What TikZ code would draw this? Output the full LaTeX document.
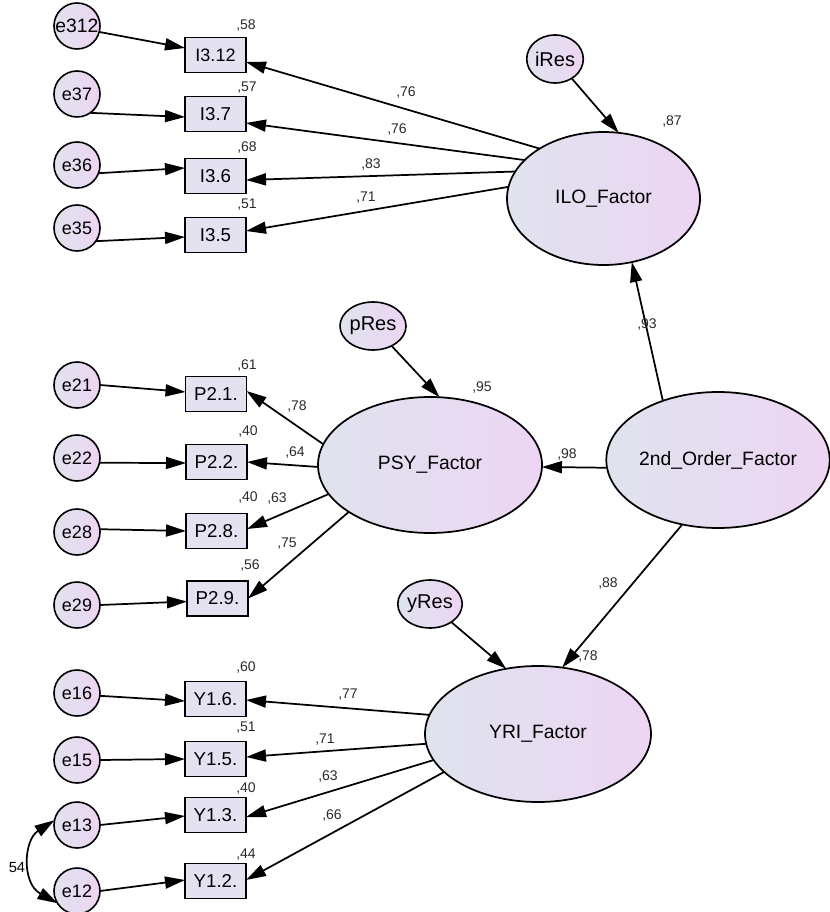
\documentclass[tikz,border=0pt]{standalone}
\usepackage{fontspec}
\setmainfont{Liberation Sans}
\usetikzlibrary{arrows.meta,shapes.geometric,calc}
\definecolor{shadeL}{HTML}{DFE3EE}
\definecolor{shadeR}{HTML}{EDD5F3}
\definecolor{boxfill}{HTML}{E4E1F1}
\definecolor{numcol}{HTML}{2A2A2A}
\begin{document}
\begin{tikzpicture}[x=0.75pt,y=-0.75pt,
  every node/.style={inner sep=0pt,outer sep=0pt},
  errc/.style={circle,draw=black,line width=1.2pt,left color=shadeL,right color=shadeR,minimum size=34.5pt,font=\fontsize{13.5}{15}\selectfont},
  resc/.style={ellipse,draw=black,line width=1.2pt,left color=shadeL,right color=shadeR,minimum width=39.75pt,minimum height=36pt,font=\fontsize{15}{16}\selectfont},
  obs/.style={rectangle,draw=black,line width=1.2pt,fill=boxfill,minimum width=45.75pt,minimum height=26pt,font=\fontsize{14}{15}\selectfont},
  lat/.style={ellipse,draw=black,line width=1.3pt,left color=shadeL,right color=shadeR,font=\fontsize{14.5}{16}\selectfont},
  num/.style={font=\fontsize{10.5}{12}\selectfont,text=numcol},
  arr/.style={line width=1.3pt,-{Triangle[length=15pt,width=9pt]}},
  darr/.style={line width=1.3pt,{Triangle[length=15pt,width=9pt]}-{Triangle[length=15pt,width=9pt]}}
]
\useasboundingbox (0,0) rectangle (829,912);

% latent factors
\node[lat,minimum width=144.75pt,minimum height=99.75pt] (ILO) at (603.5,198.5) {ILO\_Factor};
\node[lat,minimum width=168pt,minimum height=102pt] (PSY) at (430,465) {PSY\_Factor};
\node[lat,minimum width=165pt,minimum height=102pt] (SOF) at (718,460) {2nd\_Order\_Factor};
\node[lat,minimum width=169.5pt,minimum height=102pt] (YRI) at (538,734) {YRI\_Factor};

% residuals
\node[resc] (iRes) at (555,59) {iRes};
\node[resc] (pRes) at (373,326) {pRes};
\node[resc] (yRes) at (430,604) {yRes};

% ILO group
\node[errc,font=\fontsize{14.5}{15}\selectfont] (e312) at (77,26) {e312};
\node[errc] (e37) at (77,94) {e37};
\node[errc] (e36) at (77,165) {e36};
\node[errc] (e35) at (77,228) {e35};
\node[obs,font=\fontsize{13.5}{14}\selectfont] (I312) at (215.5,55) {I3.12};
\node[obs] (I37) at (215.5,114) {I3.7};
\node[obs] (I36) at (215.5,176) {I3.6};
\node[obs] (I35) at (215.5,235) {I3.5};

% PSY group
\node[errc] (e21) at (77,385) {e21};
\node[errc] (e22) at (77,458) {e22};
\node[errc] (e28) at (77,532) {e28};
\node[errc] (e29) at (77,605) {e29};
\node[obs] (P21) at (216,394) {P2.1.};
\node[obs] (P22) at (216.5,462) {P2.2.};
\node[obs] (P28) at (216.5,531) {P2.8.};
\node[obs] (P29) at (217.5,598.5) {P2.9.};

% YRI group
\node[errc] (e16) at (77,693) {e16};
\node[errc] (e15) at (77,760) {e15};
\node[errc] (e13) at (77,825) {e13};
\node[errc] (e12) at (77,891) {e12};
\node[obs] (Y16) at (215.5,699) {Y1.6.};
\node[obs] (Y15) at (215.5,759) {Y1.5.};
\node[obs] (Y13) at (215.5,815) {Y1.3.};
\node[obs] (Y12) at (215.5,881) {Y1.2.};

% error arrows
\draw[arr] (e312.-15) -- ($(I312.west)+(0,-7)$);
\draw[arr] (e37.-55) -- ($(I37.west)+(0,3)$);
\draw[arr] (e36.-21) -- ($(I36.west)+(0,-8)$);
\draw[arr] (e35.-35) -- ($(I35.west)+(0,2)$);
\draw[arr] (e21.0) -- ($(P21.west)+(0,-2)$);
\draw[arr] (e22.-12) -- ($(P22.west)+(0,1)$);
\draw[arr] (e28.7) -- (P28.west);
\draw[arr] (e29.0) -- ($(P29.west)+(0,3)$);
\draw[arr] (e16.-7) -- ($(Y16.west)+(0,2)$);
\draw[arr] (e15.0) -- (Y15.west);
\draw[arr] (e13.0) -- ($(Y13.west)+(0,1)$);
\draw[arr] (e12.0) -- ($(Y12.west)+(0,-1)$);

% loadings
\draw[arr] (ILO.142.6) -- ($(I312.east)+(0,7)$);
\draw[arr] (ILO.154.9) -- ($(I37.east)+(0,9)$);
\draw[arr] (ILO.163.4) -- ($(I36.east)+(0,4)$);
\draw[arr] (ILO.173.5) -- ($(I35.east)+(0,-4)$);
\draw[arr] (PSY.169.5) -- ($(P21.east)+(0,-3)$);
\draw[arr] (PSY.181.5) -- (P22.east);
\draw[arr] (PSY.196.4) -- ($(P28.east)+(0,-2)$);
\draw[arr] (PSY.210.3) -- (P29.east);
\draw[arr] (YRI.170.7) -- ($(Y16.east)+(0,1)$);
\draw[arr] (YRI.185.6) -- ($(Y15.east)+(0,-2)$);
\draw[arr] (YRI.194.8) -- ($(Y13.east)+(0,2)$);
\draw[arr] (YRI.202.3) -- ($(Y12.east)+(0,-1)$);

% structural paths
\draw[arr] (iRes) -- (ILO.77);
\draw[arr] (pRes) -- (PSY.82);
\draw[arr] (yRes) -- (YRI.116.6);
\draw[arr] (SOF.133.5) -- (ILO.-66);
\draw[arr] (SOF.184) -- (PSY.-1);
\draw[arr] (SOF.-119) -- (YRI.70.3);

% covariance
\draw[darr] (e13.168) .. controls +(-31,20) and +(-36,-20) .. (e12.212);
\node[font=\fontsize{11}{12}\selectfont] (c54) at (17,868) {54};

% numbers
\node[num] (n1) at (246,26) {,58};
\node[num] (n2) at (247,88) {,57};
\node[num] (n3) at (247,148) {,68};
\node[num] (n4) at (247,205) {,51};
\node[num] (n5) at (406,93) {,76};
\node[num] (n6) at (397,130) {,76};
\node[num] (n7) at (371,165) {,83};
\node[num] (n8) at (366,198) {,71};
\node[num] (n9) at (672,122) {,87};
\node[num] (n10) at (647,325) {,93};
\node[num] (n11) at (482,388) {,95};
\node[num] (n12) at (567,455) {,98};
\node[num] (n13) at (608,584) {,88};
\node[num] (n14) at (588,657) {,78};
\node[num] (n15) at (247,366) {,61};
\node[num] (n16) at (248,432) {,40};
\node[num] (n17) at (248,498) {,40};
\node[num] (n18) at (277,499) {,63};
\node[num] (n19) at (287,544) {,75};
\node[num] (n20) at (250,566) {,56};
\node[num] (n21) at (297,407) {,78};
\node[num] (n22) at (295,453) {,64};
\node[num] (n23) at (246,668) {,60};
\node[num] (n24) at (246,728) {,51};
\node[num] (n25) at (246,788) {,40};
\node[num] (n26) at (246,855) {,44};
\node[num] (n27) at (348,695) {,77};
\node[num] (n28) at (325,740) {,71};
\node[num] (n29) at (328,776) {,63};
\node[num] (n30) at (332,815) {,66};
\end{tikzpicture}
\end{document}
